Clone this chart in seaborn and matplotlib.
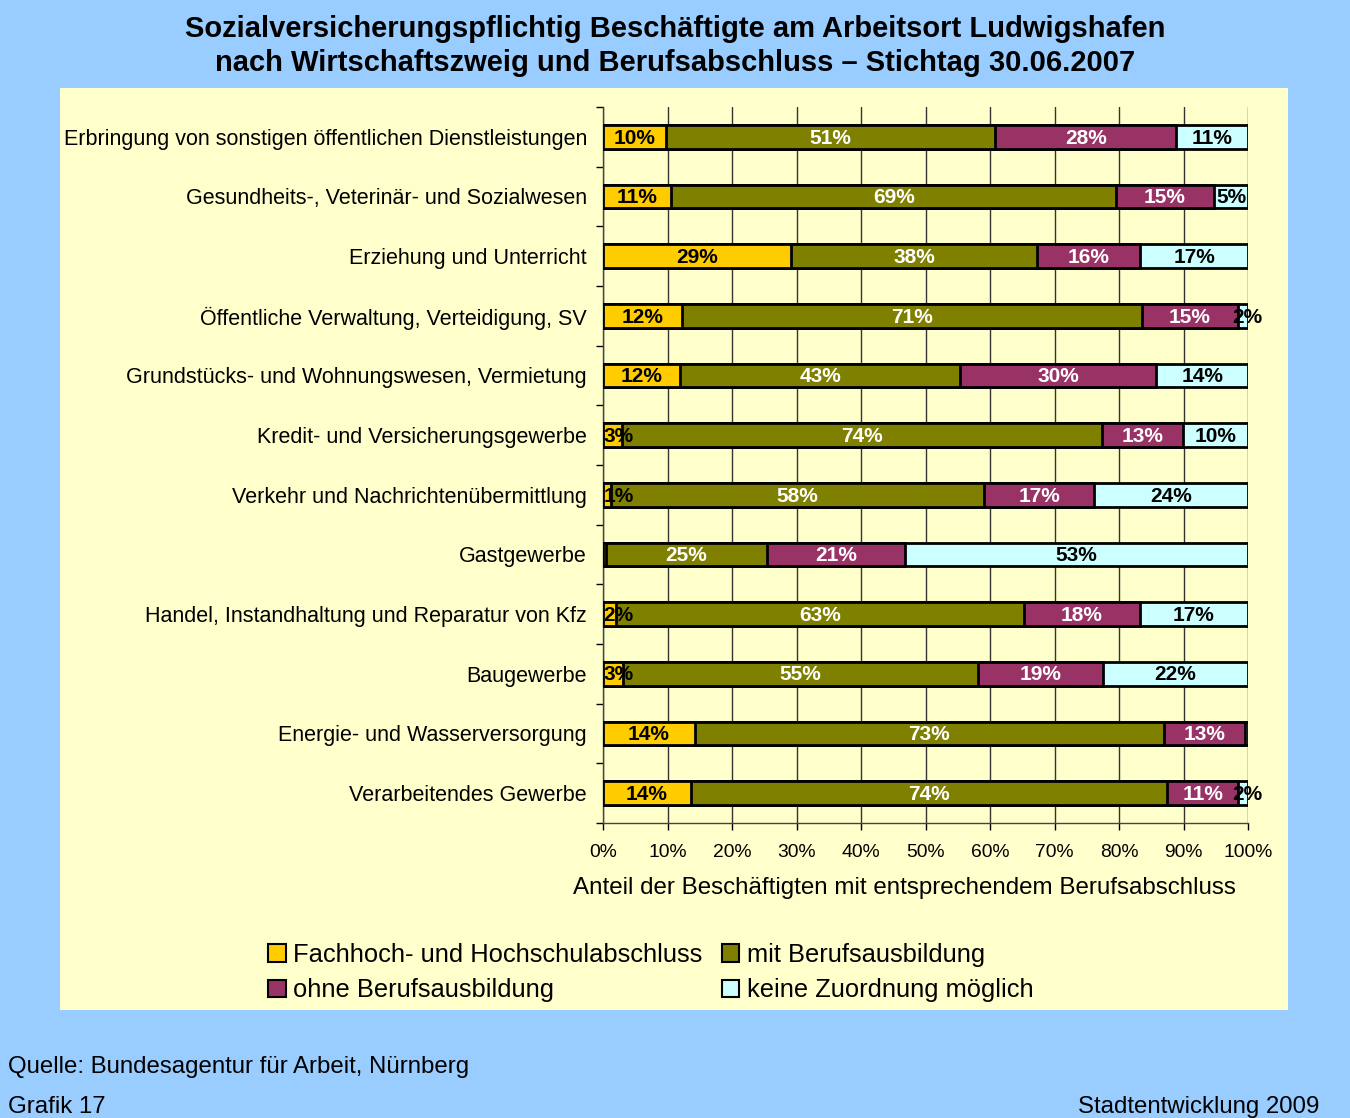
import numpy as np
import pandas as pd
import matplotlib
matplotlib.use("Agg")
import matplotlib.pyplot as plt
from matplotlib.patches import Rectangle
import seaborn as sns

categories = [
    "Erbringung von sonstigen öffentlichen Dienstleistungen",
    "Gesundheits-, Veterinär- und Sozialwesen",
    "Erziehung und Unterricht",
    "Öffentliche Verwaltung, Verteidigung, SV",
    "Grundstücks- und Wohnungswesen, Vermietung",
    "Kredit- und Versicherungsgewerbe",
    "Verkehr und Nachrichtenübermittlung",
    "Gastgewerbe",
    "Handel, Instandhaltung und Reparatur von Kfz",
    "Baugewerbe",
    "Energie- und Wasserversorgung",
    "Verarbeitendes Gewerbe",
]
hochschule = [9.8, 10.6, 29.2, 12.2, 12.0, 3.0, 1.2, 0.4, 2.0, 3.1, 14.2, 13.6]
berufsausbildung = [51.0, 68.9, 38.0, 71.3, 43.4, 74.3, 57.9, 25.0, 63.3, 55.0, 72.8, 73.9]
ohne = [28.1, 15.2, 16.1, 14.9, 30.4, 12.6, 17.0, 21.4, 17.9, 19.4, 12.6, 10.9]
keine = [11.1, 5.3, 16.7, 1.6, 14.2, 10.1, 23.9, 53.2, 16.8, 22.5, 0.4, 1.6]

series_names = ["Fachhoch- und Hochschulabschluss", "mit Berufsausbildung",
                "ohne Berufsausbildung", "keine Zuordnung möglich"]
colors = ["#FFCC00", "#808000", "#993366", "#CCFFFF"]
label_colors = ["black", "white", "white", "black"]
x_ticks = [0, 10, 20, 30, 40, 50, 60, 70, 80, 90, 100]

sns.set_theme(style="white")
plt.rcParams["font.family"] = ["Liberation Sans", "DejaVu Sans"]
plt.rcParams["text.color"] = "black"
plt.rcParams["xtick.color"] = "black"
plt.rcParams["ytick.color"] = "black"
plt.rcParams["axes.labelcolor"] = "black"

fig = plt.figure(figsize=(13.5, 11.18), dpi=100)
fig.patch.set_facecolor("#99CCFF")
bg = Rectangle((0.0444, 0.0966), 0.9096, 0.8247, transform=fig.transFigure,
               facecolor="#FFFFCC", edgecolor="none", zorder=-10)
fig.patches.append(bg)

ax = fig.add_axes([0.4467, 0.2639, 0.4778, 0.6404])
ax.set_facecolor("#FFFFCC")

series = [hochschule, berufsausbildung, ohne, keine]
cum = np.cumsum(np.array(series), axis=0)
df = pd.DataFrame({"cat": categories})
for i in range(3, -1, -1):
    df["v"] = cum[i]
    sns.barplot(data=df, y="cat", x="v", orient="h", color=colors[i], width=0.4,
                edgecolor="black", linewidth=2, saturation=1, ax=ax, zorder=3)

starts = np.vstack([np.zeros(len(categories)), cum[:-1]])
for i in range(4):
    for j, v in enumerate(series[i]):
        if round(v) < 1:
            continue
        if starts[i][j] == 0 and v < 5:
            xpos, ha = 0.1, "left"
        elif i == 3 and v < 3:
            xpos, ha = starts[i][j] + v / 2 + 0.7, "center"
        else:
            xpos, ha = starts[i][j] + v / 2, "center"
        ax.text(xpos, j + 0.02, f"{round(v)}%", ha=ha, va="center",
                color=label_colors[i], fontsize=15, fontweight="bold", zorder=5)

ax.set_xlim(0, 100)
ax.set_ylim(11.5, -0.5)
ax.set_xticks(x_ticks)
ax.set_xticklabels([f"{t}%" for t in x_ticks], fontsize=13.9)
ax.xaxis.grid(True, color="#333333", linewidth=1)
ax.set_axisbelow(True)
ax.set_ylabel("")
ax.set_xlabel("Anteil der Beschäftigten mit entsprechendem Berufsabschluss", fontsize=17.4)
ax.xaxis.set_label_coords(0.468, -0.075)
ax.tick_params(axis="y", which="major", length=0, labelsize=15.5, pad=11.5)
ax.set_yticks(np.arange(-0.5, 12, 1), minor=True)
ax.tick_params(axis="y", which="minor", length=5, color="black", width=1, direction="out", left=True)
ax.tick_params(axis="x", length=5, color="black", width=1, direction="out", bottom=True, pad=10.5)
for s in ["top", "right"]:
    ax.spines[s].set_visible(False)
ax.spines["left"].set_color("#444444")
ax.spines["bottom"].set_color("#444444")
ax.spines["left"].set_linewidth(1)
ax.spines["bottom"].set_linewidth(1)

fig.text(0.5, 0.974, "Sozialversicherungspflichtig Beschäftigte am Arbeitsort Ludwigshafen",
         ha="center", va="center", fontsize=21, fontweight="bold")
fig.text(0.5, 0.9435, "nach Wirtschaftszweig und Berufsabschluss – Stichtag 30.06.2007",
         ha="center", va="center", fontsize=21, fontweight="bold")

handles = [Rectangle((0, 0), 1, 1, facecolor=c, edgecolor="black", linewidth=1.5) for c in colors]
order = [0, 2, 1, 3]
fig.legend([handles[k] for k in order], [series_names[k] for k in order], loc="center",
           bbox_to_anchor=(0.482, 0.130), ncol=2,
           frameon=False, fontsize=18.4, handlelength=0.7, handleheight=0.7,
           handletextpad=0.3, columnspacing=0.75, labelspacing=0.45)

fig.text(0.006, 0.0455, "Quelle: Bundesagentur für Arbeit, Nürnberg", ha="left", va="center", fontsize=17.3)
fig.text(0.006, 0.0095, "Grafik 17", ha="left", va="center", fontsize=17.3)
fig.text(0.977, 0.0095, "Stadtentwicklung 2009", ha="right", va="center", fontsize=17.3)

fig.savefig("out.png", dpi=100, facecolor=fig.get_facecolor())
